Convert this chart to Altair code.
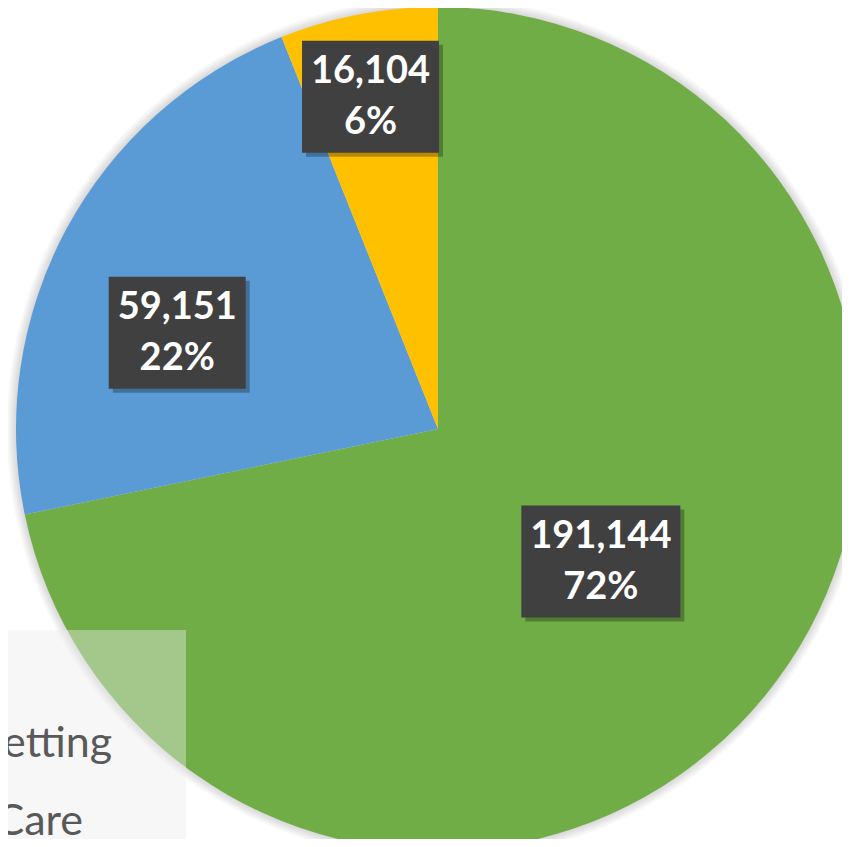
import altair as alt
import pandas as pd

# ---- data ----
categories = ["Inpatient", "Community Setting", "Home Care"]
values = [191144, 59151, 16104]
slice_order = [0, 1, 2]

# ---- styles ----
colors = ["#70AD47", "#5B9BD5", "#FFC000"]
label_radius = [210, 278, 339]          # distance of each label from the centre
label_shift_deg = [0, -8, -0.6]          # best-fit nudge of each label angle
CX, CY, R = 430, 421, 422

df = pd.DataFrame({
    "category": categories,
    "value": values,
    "order": slice_order,
    "lr": label_radius,
    "shift": label_shift_deg,
})

one = pd.DataFrame({"a": [0]})

# soft glow around the pie
glow_layers = [
    alt.Chart(one).mark_arc(
        radius=R + k, theta=0, theta2=6.2832, color="black", opacity=0.03
    ).encode(x=alt.value(CX), y=alt.value(CY))
    for k in [9, 7, 5, 3, 1]
]

pie = alt.Chart(df).mark_arc(radius=R, stroke=None).encode(
    theta=alt.Theta("value:Q", stack=True),
    order=alt.Order("order:Q"),
    color=alt.Color("category:N", scale=alt.Scale(domain=categories, range=colors), legend=None),
    x=alt.value(CX), y=alt.value(CY),
)

lab = alt.Chart(df).transform_joinaggregate(
    total="sum(value)"
).transform_window(
    cum="sum(value)", sort=[alt.SortField("order")], frame=[None, 0]
).transform_calculate(
    mid="(datum.cum - datum.value/2)/datum.total*2*PI + datum.shift*PI/180",
).transform_calculate(
    lx=f"{CX} + datum.lr*sin(datum.mid)",
    ly=f"{CY} - datum.lr*cos(datum.mid)",
    hw="11*length(format(datum.value, ',')) + 2.5",
    txt="format(datum.value, ',') + '\\n' + format(datum.value/datum.total, '.0%')",
).transform_calculate(
    x1="datum.lx - datum.hw", x2="datum.lx + datum.hw",
    y1="datum.ly - 56", y2="datum.ly + 56",
    sx1="datum.lx - datum.hw + 4", sx2="datum.lx + datum.hw + 4",
    sy1="datum.ly - 56 + 4", sy2="datum.ly + 56 + 4",
)

box_shadow = lab.mark_rect(color="black", opacity=0.28).encode(
    x=alt.X("sx1:Q", scale=None), x2="sx2:Q",
    y=alt.Y("sy1:Q", scale=None), y2="sy2:Q",
)
box = lab.mark_rect(color="#404040").encode(
    x=alt.X("x1:Q", scale=None), x2="x2:Q",
    y=alt.Y("y1:Q", scale=None), y2="y2:Q",
)
text = lab.mark_text(
    font="Lato", fontWeight="bold", fontSize=38, color="white",
    lineBreak="\n", lineHeight=51, align="center", baseline="middle", dy=-25,
).encode(
    x=alt.X("lx:Q", scale=None), y=alt.Y("ly:Q", scale=None), text="txt:N",
)

# legend (cut by the left edge of the picture)
legend_box = alt.Chart(one).mark_rect(
    color="#ececec", opacity=0.42
).encode(x=alt.value(-10), x2=alt.value(178), y=alt.value(622), y2=alt.value(860))

legend_layers = []
for idx, (xr, yb) in zip([1, 2], [(104, 749), (75, 827)]):
    legend_layers.append(
        alt.Chart(pd.DataFrame({"label": [categories[idx]]})).mark_text(
            font="Lato", fontSize=43, color="#595959", align="right", baseline="alphabetic"
        ).encode(text="label:N", x=alt.value(xr), y=alt.value(yb))
    )

chart = alt.layer(
    *glow_layers, pie, box_shadow, box, text, legend_box, *legend_layers
).properties(
    width=834, height=831, padding=0,
    autosize=alt.AutoSizeParams(type="none"),
).configure_view(stroke=None)

chart.save("out.html", embed_options={"renderer": "svg", "actions": False})
